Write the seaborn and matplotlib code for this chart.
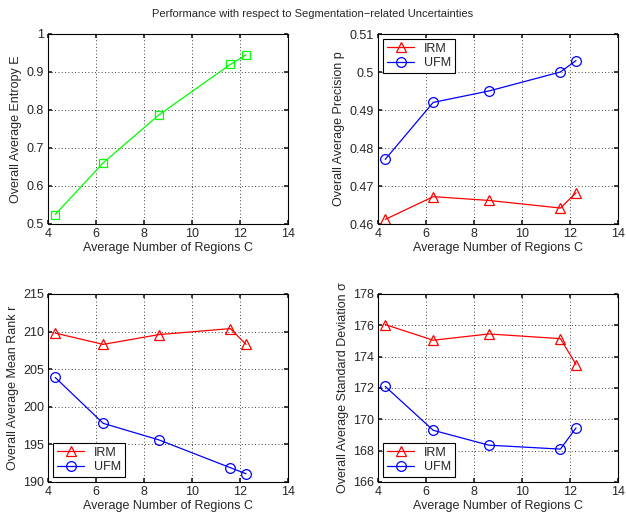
import matplotlib
matplotlib.use("Agg")
import matplotlib.pyplot as plt
import seaborn as sns
import pandas as pd

# average number of regions C for each segmentation setting
regions = [4.3, 6.3, 8.62, 11.6, 12.25]

entropy = [0.525, 0.661, 0.787, 0.920, 0.945]

precision_irm = [0.4612, 0.4672, 0.4662, 0.4642, 0.4682]
precision_ufm = [0.4770, 0.4920, 0.4950, 0.5000, 0.5030]

rank_irm = [209.8, 208.3, 209.6, 210.4, 208.3]
rank_ufm = [203.9, 197.8, 195.6, 191.9, 191.1]

std_irm = [176.05, 175.05, 175.45, 175.15, 173.5]
std_ufm = [172.1, 169.3, 168.35, 168.1, 169.45]

sns.set_theme(style="ticks")
plt.rcParams["font.family"] = ["Liberation Sans", "DejaVu Sans"]

fig = plt.figure(figsize=(6.26, 5.16), dpi=100)
W, H = 626, 516
boxes = [(48, 34, 288, 224), (378, 34, 618, 224),
         (48, 294, 288, 482), (378, 294, 618, 482)]
axs = [fig.add_axes([l / W, 1 - b / H, (r - l) / W, (b - t) / H]) for l, t, r, b in boxes]

fig.text(0.5, 1 - 14 / H, "Performance with respect to Segmentation\u2212related Uncertainties",
         ha="center", va="center", fontsize=8)


def style_axis(ax, ylabel, ylim, yticks, fmt):
    ax.set_xlim(4, 14)
    ax.set_xticks([4, 6, 8, 10, 12, 14])
    ax.set_ylim(*ylim)
    ax.set_yticks(yticks)
    ax.set_yticklabels([fmt(v) for v in yticks])
    ax.set_xlabel("Average Number of Regions C", fontsize=9, labelpad=1)
    ax.set_ylabel(ylabel, fontsize=9, labelpad=3)
    ax.grid(True, color="black", linestyle=(0, (1, 3)), linewidth=0.6)
    ax.tick_params(direction="in", labelsize=9, length=3, top=True, right=True, pad=3)
    for s in ax.spines.values():
        s.set_linewidth(0.8)
        s.set_color("black")


def two_series(ax, x, irm, ufm, loc):
    df = pd.DataFrame({"C": x * 2, "v": irm + ufm,
                       "method": ["IRM"] * len(x) + ["UFM"] * len(x)})
    sns.lineplot(data=df, x="C", y="v", hue="method", style="method",
                 palette={"IRM": "red", "UFM": "blue"},
                 markers={"IRM": "^", "UFM": "o"}, dashes=False,
                 markersize=7, markerfacecolor="none", markeredgewidth=0.9,
                 linewidth=0.9, ax=ax)
    for ln, c in zip(ax.lines, ["red", "blue"]):
        ln.set_markeredgecolor(c)
        ln.set_markerfacecolor("none")
    leg = ax.legend(loc=loc, fontsize=9, fancybox=False, framealpha=1,
                    edgecolor="black", handlelength=2.2, borderpad=0.3,
                    labelspacing=0.2, borderaxespad=0.4)
    leg.get_frame().set_linewidth(0.8)
    for h, c in zip(leg.legend_handles, ["red", "blue"]):
        h.set_markerfacecolor("none")
        h.set_markeredgecolor(c)


sns.lineplot(x=regions, y=entropy, color="#00ff00", marker="s", markersize=6,
             markerfacecolor="none", markeredgecolor="#00ff00", markeredgewidth=0.9,
             linewidth=0.9, ax=axs[0])
style_axis(axs[0], "Overall Average Entropy E", (0.5, 1.0),
           [0.5, 0.6, 0.7, 0.8, 0.9, 1.0], lambda v: "1" if v == 1 else f"{v:g}")

two_series(axs[1], regions, precision_irm, precision_ufm, "upper left")
style_axis(axs[1], "Overall Average Precision p", (0.46, 0.51),
           [0.46, 0.47, 0.48, 0.49, 0.50, 0.51], lambda v: f"{v:g}")

two_series(axs[2], regions, rank_irm, rank_ufm, "lower left")
style_axis(axs[2], "Overall Average Mean Rank r", (190, 215),
           [190, 195, 200, 205, 210, 215], lambda v: f"{v:g}")

two_series(axs[3], regions, std_irm, std_ufm, "lower left")
style_axis(axs[3], "Overall Average Standard Deviation \u03c3", (166, 178),
           [166, 168, 170, 172, 174, 176, 178], lambda v: f"{v:g}")

fig.savefig("out.png", dpi=100, facecolor="white")
